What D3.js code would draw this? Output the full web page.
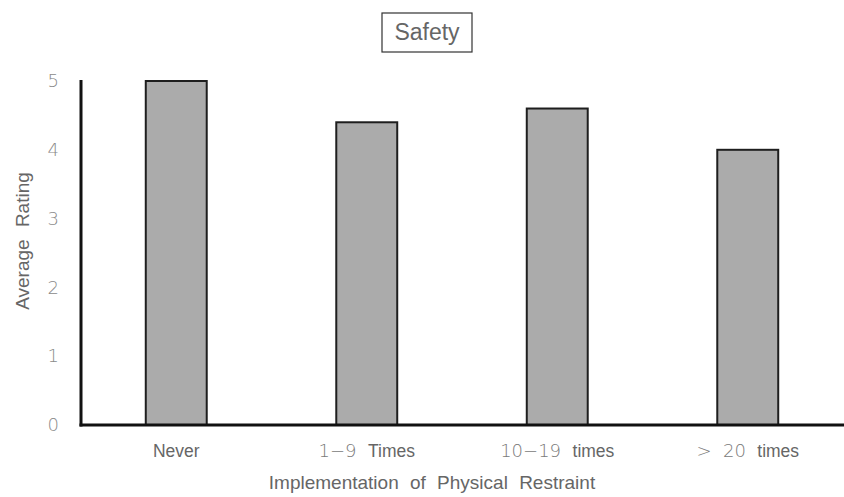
<!DOCTYPE html>
<html>
<head>
<meta charset="utf-8">
<script src="https://cdn.jsdelivr.net/npm/d3@7"></script>
<style>
  html, body { margin: 0; padding: 0; background: #fff; }
  svg { display: block; }
</style>
</head>
<body>
<svg id="chart" width="844" height="497"></svg>
<script>
// Average safety rating by frequency of physical restraint
const categories = ["Never", "1-9 Times", "10-19 times", "> 20 times"];
// Each label split into a numeric part (thin face) and a word part
const labelNumbers = ["", "1\u22129", "10\u221219", ">  20"];
const labelWords = ["Never", "Times", "times", "times"];
const ratings = [5.0, 4.4, 4.6, 4.0];
const yTicks = [0, 1, 2, 3, 4, 5];

const svg = d3.select("#chart");
const plotLeft = 81, plotRight = 843, plotTop = 81, plotBottom = 425;

const x = d3.scaleBand()
  .domain(categories)
  .range([plotLeft, plotRight])
  .paddingInner(0.68)
  .paddingOuter(0.34);

const y = d3.scaleLinear().domain([0, 5]).range([plotBottom, plotTop]);

const thinFont = "'DejaVu Sans', sans-serif";
const sansFont = "'Liberation Sans', Arial, sans-serif";

// Bars
svg.append("g").selectAll("rect")
  .data(ratings)
  .join("rect")
  .attr("x", (d, i) => x(categories[i]))
  .attr("y", d => y(d))
  .attr("width", x.bandwidth())
  .attr("height", d => y(0) - y(d))
  .attr("fill", "#ababab")
  .attr("stroke", "#1e1e1e")
  .attr("stroke-width", 2);

// Y axis: bare line with integer tick labels, no tick marks
const yAxis = d3.axisLeft(y).tickValues(yTicks).tickFormat(d3.format("d"))
  .tickSize(0).tickPadding(22);
const yg = svg.append("g").attr("transform", `translate(${plotLeft},0)`).call(yAxis);
yg.select(".domain").remove();
yg.selectAll("text")
  .attr("font-family", thinFont)
  .attr("font-weight", 200)
  .attr("font-size", 18)
  .attr("fill", "#8a8a8a");

svg.append("line")
  .attr("x1", plotLeft).attr("x2", plotLeft)
  .attr("y1", y(5) - 1).attr("y2", y(0) + 1.5)
  .attr("stroke", "#111").attr("stroke-width", 3);

// X axis baseline spanning to the right edge
svg.append("line")
  .attr("x1", plotLeft - 1.5).attr("x2", 844)
  .attr("y1", y(0)).attr("y2", y(0))
  .attr("stroke", "#111").attr("stroke-width", 3);

// X tick labels
const xl = svg.append("g").selectAll("text")
  .data(categories)
  .join("text")
  .attr("x", d => x(d) + x.bandwidth() / 2)
  .attr("y", 457)
  .attr("text-anchor", "middle")
  .attr("fill", "#666");
xl.each(function (d, i) {
  const t = d3.select(this);
  if (labelNumbers[i]) {
    t.append("tspan")
      .attr("font-family", thinFont)
      .attr("font-weight", 200)
      .attr("font-size", 18)
      .attr("fill", "#7a7a7a")
      .style("white-space", "pre")
      .text(labelNumbers[i] + "  ");
  }
  t.append("tspan")
    .attr("font-family", sansFont)
    .attr("font-size", 17.5)
    .text(labelWords[i]);
});

// Axis titles
svg.append("text")
  .attr("x", 432).attr("y", 489)
  .attr("text-anchor", "middle")
  .attr("font-family", sansFont)
  .attr("font-size", 19)
  .attr("word-spacing", 6)
  .attr("fill", "#666")
  .text("Implementation of Physical Restraint");

svg.append("text")
  .attr("transform", "translate(29,241) rotate(-90)")
  .attr("text-anchor", "middle")
  .attr("font-family", sansFont)
  .attr("font-size", 19)
  .attr("word-spacing", 7)
  .attr("fill", "#666")
  .text("Average Rating");

// Boxed title
svg.append("text")
  .attr("x", 427).attr("y", 40)
  .attr("text-anchor", "middle")
  .attr("font-family", sansFont)
  .attr("font-size", 23)
  .attr("fill", "#666")
  .text("Safety");
svg.append("rect")
  .attr("x", 382).attr("y", 13)
  .attr("width", 90).attr("height", 39)
  .attr("fill", "none")
  .attr("stroke", "#333")
  .attr("stroke-width", 1.2);
</script>
</body>
</html>
